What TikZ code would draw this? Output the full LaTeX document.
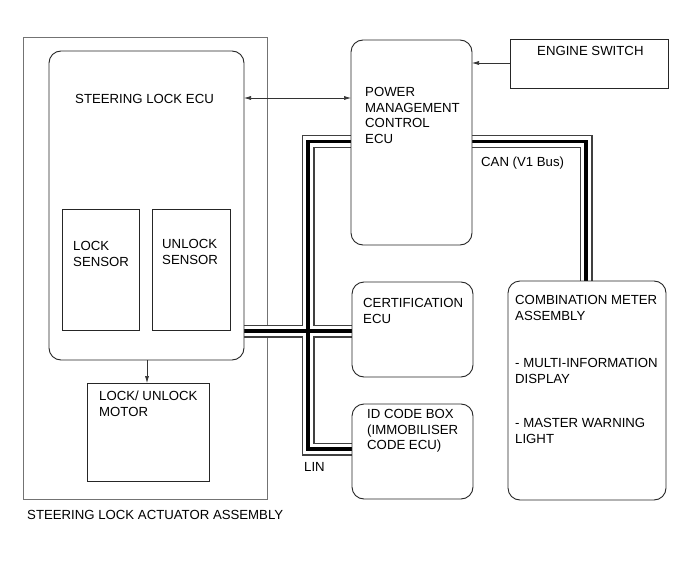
\documentclass[tikz,border=0pt]{standalone}
\usepackage{fontspec}
\setmainfont{Liberation Sans}
\usetikzlibrary{arrows.meta}
\pgfdeclarelayer{bg}
\pgfdeclarelayer{bus}
\pgfsetlayers{bg,bus,main}
\begin{document}
\begin{tikzpicture}[x=1pt,y=-1pt,
  >={Latex[length=7pt,width=4pt]},
  box/.style={draw=black!85, line width=0.9pt, fill=white, inner sep=0pt, outer sep=0pt, anchor=north west},
  rbox/.style={box, rounded corners=12pt},
  outerbox/.style={draw=black!55, line width=1pt, inner sep=0pt, outer sep=0pt, anchor=north west},
  txt/.style={inner sep=0pt, anchor=north west, align=left, font=\fontsize{13.2pt}{15.7pt}\selectfont},
  arr/.style={draw=black!80, line width=0.6pt},
  busA/.style={draw=black!75, line width=13pt, line join=miter},
  busB/.style={draw=white, line width=10.6pt, line join=miter},
  busC/.style={draw=black, line width=3.6pt, line join=miter},
]
\useasboundingbox (0,0) rectangle (698,564);

\begin{pgfonlayer}{bg}
\fill[white] (0,0) rectangle (698,564);
\node[outerbox, minimum width=244pt, minimum height=461pt] (act) at (23,38) {};
\end{pgfonlayer}
\node[txt] (actl) at (27,510) {STEERING LOCK ACTUATOR ASSEMBLY};

% boxes
\node[rbox, minimum width=195pt, minimum height=309pt] (ecu) at (49,51) {};
\node[box, minimum width=77pt, minimum height=121pt] (lock) at (62,209) {};
\node[box, minimum width=78pt, minimum height=121pt] (unlock) at (152,209) {};
\node[box, minimum width=122pt, minimum height=98pt] (motor) at (87,383) {};
\node[rbox, minimum width=121pt, minimum height=205pt] (pmc) at (351,40) {};
\node[box, minimum width=158pt, minimum height=49pt] (esw) at (510,39) {};
\node[rbox, minimum width=121pt, minimum height=95pt] (cert) at (352,282) {};
\node[rbox, minimum width=121pt, minimum height=95pt] (idb) at (352,404) {};
\node[rbox, minimum width=158pt, minimum height=219pt] (comb) at (508,281) {};

% texts
\node[txt] (ecut) at ([shift={(26,43)}]ecu.north west) {STEERING LOCK ECU};
\node[txt] (lockt) at ([shift={(11,32)}]lock.north west) {LOCK\\SENSOR};
\node[txt] (unlockt) at ([shift={(10,30)}]unlock.north west) {UNLOCK\\SENSOR};
\node[txt] (motort) at ([shift={(12,8)}]motor.north west) {LOCK/ UNLOCK\\MOTOR};
\node[txt] (pmct) at ([shift={(14,47)}]pmc.north west) {POWER\\MANAGEMENT\\CONTROL\\ECU};
\node[txt] (eswt) at ([shift={(27,7)}]esw.north west) {ENGINE SWITCH};
\node[txt] (certt) at ([shift={(11,16)}]cert.north west) {CERTIFICATION\\ECU};
\node[txt] (idbt) at ([shift={(15,5)}]idb.north west) {ID CODE BOX\\(IMMOBILISER\\CODE ECU)};
\node[txt] (combt) at ([shift={(7,14)}]comb.north west) {COMBINATION METER\\ASSEMBLY\\[31.9pt]- MULTI-INFORMATION\\DISPLAY\\[28.6pt]- MASTER WARNING\\LIGHT};
\node[txt] (canl) at (481,157) {CAN (V1 Bus)};
\node[txt] (linl) at (304,462) {LIN};

% arrows
\draw[arr, <->] (ecu.east |- 0,98) -- (pmc.west |- 0,98);
\draw[arr, ->] (esw.west |- 0,63) -- (pmc.east |- 0,63);
\draw[arr, ->] (ecu.south -| 147,0) -- (motor.north -| 147,0);

% buses
\begin{pgfonlayer}{bus}
\foreach \s in {busA,busB,busC}{
  \draw[\s] (ecu.east |- 0,331) -- (cert.west |- 0,331);
  \draw[\s] (pmc.west |- 0,141.5) -- (308,141.5) -- (308,449) -- (idb.west |- 0,449);
  \draw[\s] (pmc.east |- 0,141.5) -- (586,141.5) -- (comb.north -| 586,0);
}
\end{pgfonlayer}
\end{tikzpicture}
\end{document}
